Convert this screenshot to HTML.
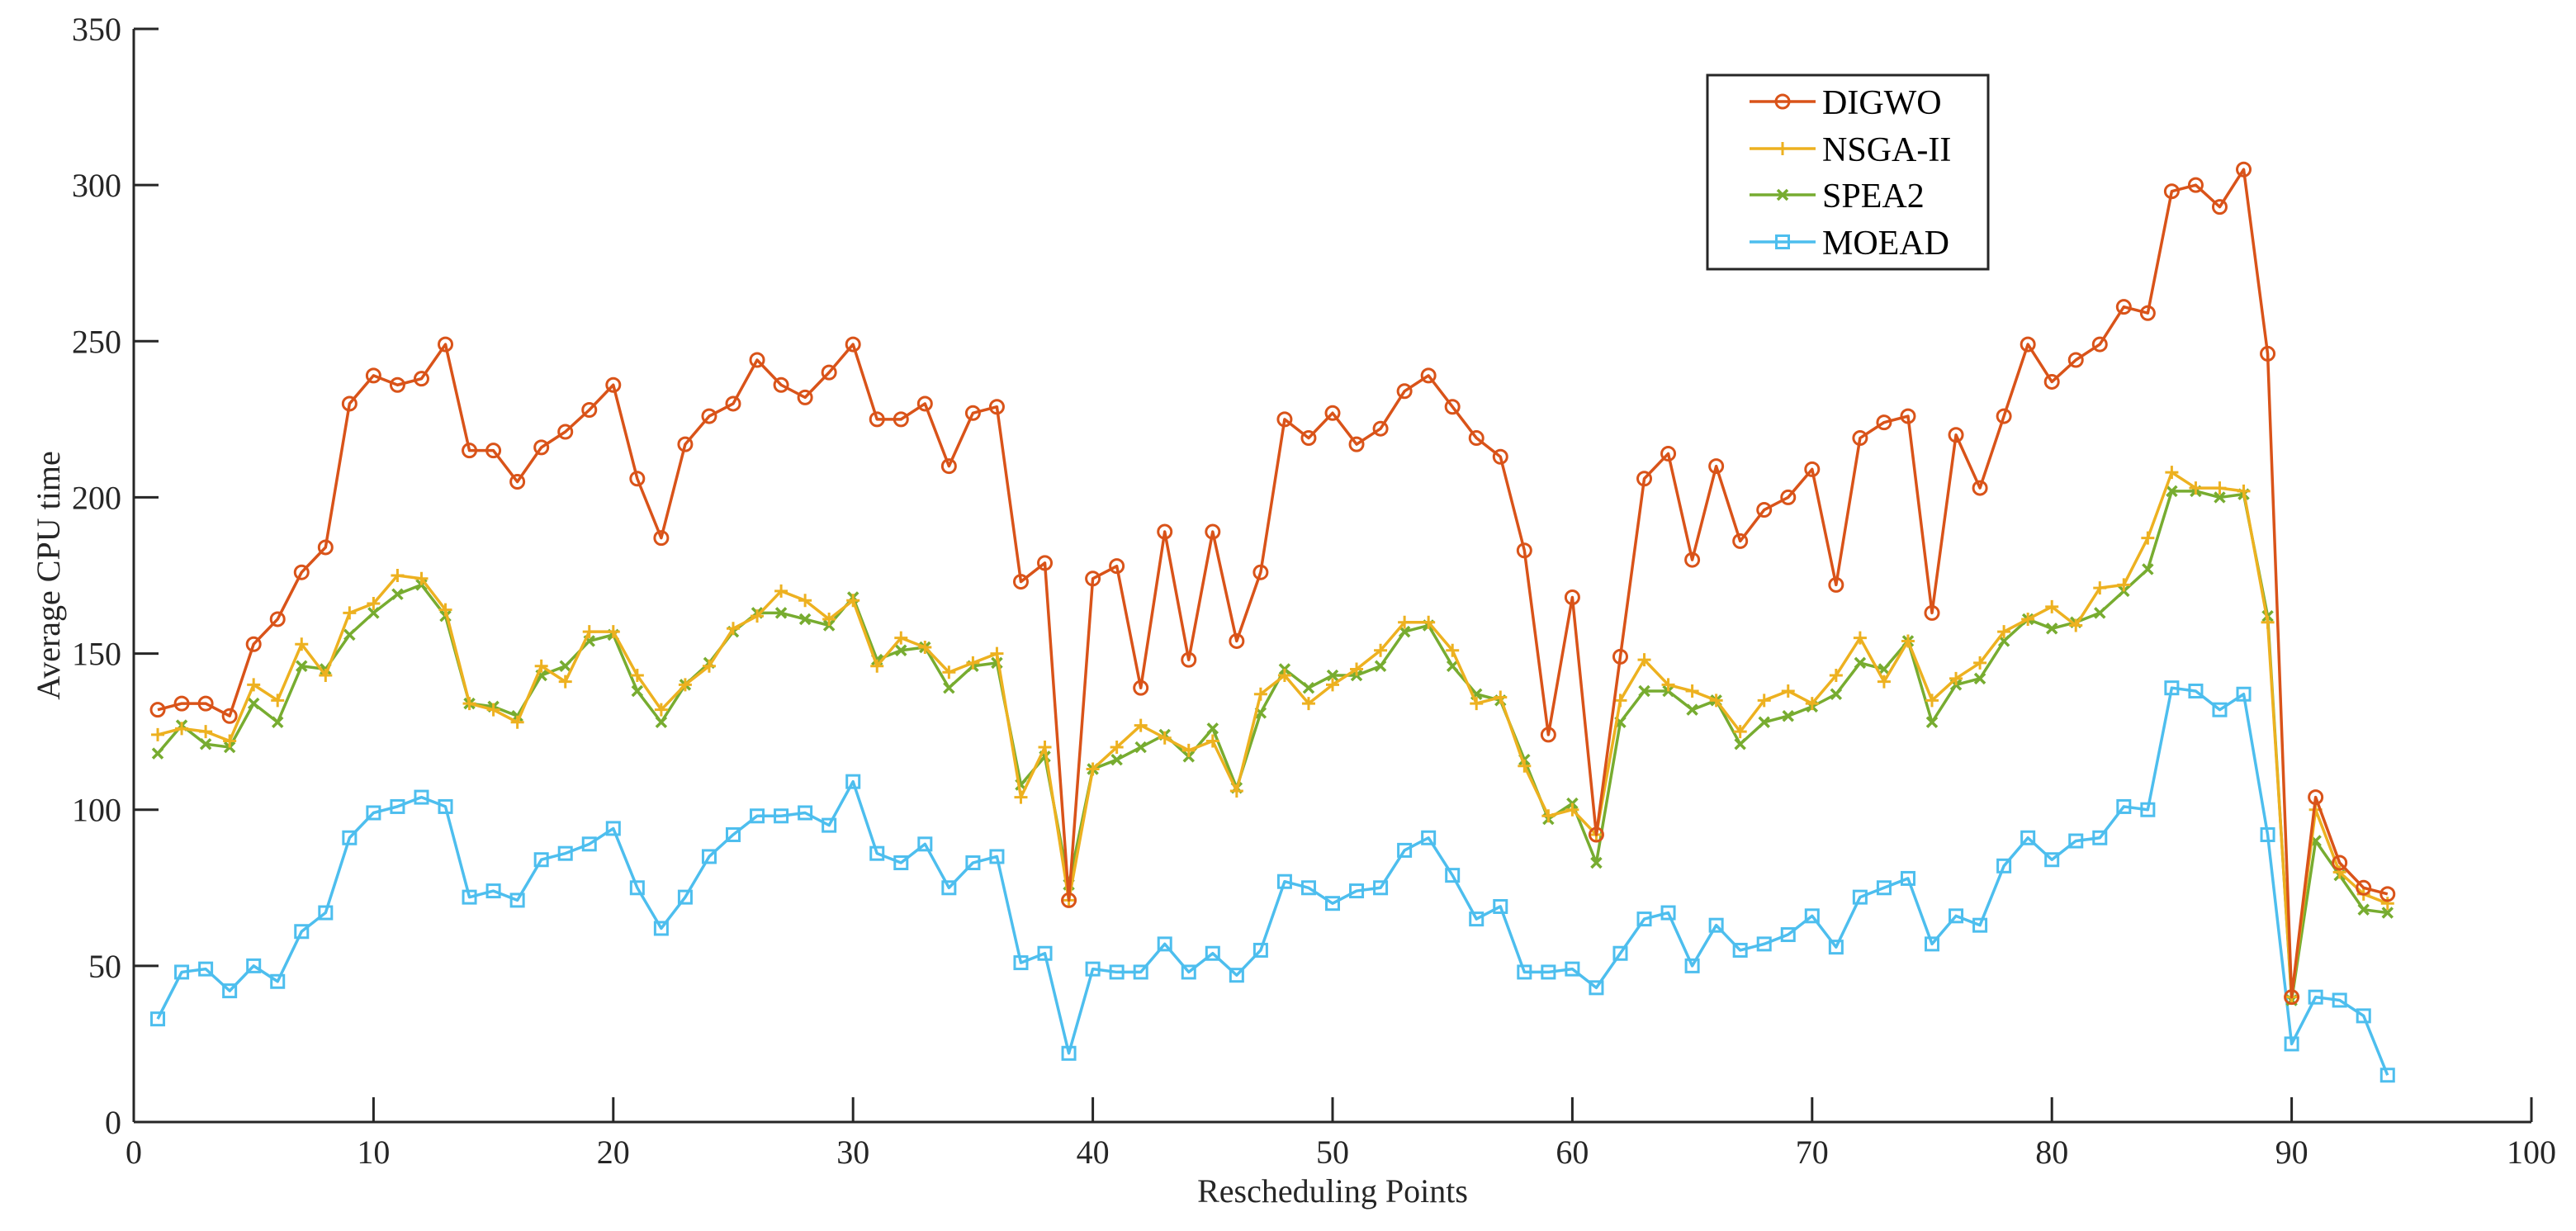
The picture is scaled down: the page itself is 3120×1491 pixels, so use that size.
<!DOCTYPE html>
<html><head><meta charset="utf-8"><style>
html,body{margin:0;padding:0;background:#fff;}
svg{display:block;font-family:"Liberation Serif",serif;}
</style></head><body>
<svg id="chart" width="3120" height="1491" viewBox="0 0 3120 1491" xmlns="http://www.w3.org/2000/svg"></svg>
<script>
const xTicks=[0,10,20,30,40,50,60,70,80,90,100];
const yTicks=[0,50,100,150,200,250,300,350];
const seriesNames=["DIGWO","NSGA-II","SPEA2","MOEAD"];
const digwo=[132,134,134,130,153,161,176,184,230,239,236,238,249,215,215,205,216,221,228,236,206,187,217,226,230,244,236,232,240,249,225,225,230,210,227,229,173,179,71,174,178,139,189,148,189,154,176,225,219,227,217,222,234,239,229,219,213,183,124,168,92,149,206,214,180,210,186,196,200,209,172,219,224,226,163,220,203,226,249,237,244,249,261,259,298,300,293,305,246,40,104,83,75,73];
const nsga=[124,126,125,122,140,135,153,143,163,166,175,174,164,134,132,128,146,141,157,157,143,132,140,146,158,162,170,167,161,167,146,155,152,144,147,150,104,120,71,113,120,127,123,119,122,106,137,143,134,140,145,151,160,160,151,134,136,114,98,100,92,135,148,140,138,135,125,135,138,134,143,155,141,154,135,142,147,157,161,165,159,171,172,187,208,203,203,202,160,40,100,80,73,70];
const spea=[118,127,121,120,134,128,146,145,156,163,169,172,162,134,133,130,143,146,154,156,138,128,140,147,157,163,163,161,159,168,148,151,152,139,146,147,108,117,76,113,116,120,124,117,126,107,131,145,139,143,143,146,157,159,146,137,135,116,97,102,83,128,138,138,132,135,121,128,130,133,137,147,145,154,128,140,142,154,161,158,160,163,170,177,202,202,200,201,162,39,90,79,68,67];
const moead=[33,48,49,42,50,45,61,67,91,99,101,104,101,72,74,71,84,86,89,94,75,62,72,85,92,98,98,99,95,109,86,83,89,75,83,85,51,54,22,49,48,48,57,48,54,47,55,77,75,70,74,75,87,91,79,65,69,48,48,49,43,54,65,67,50,63,55,57,60,66,56,72,75,78,57,66,63,82,91,84,90,91,101,100,139,138,132,137,92,25,40,39,34,15];

const NS="http://www.w3.org/2000/svg";
const svg=document.getElementById('chart');
const X0=162,X1=3066,Y0=1359,Y1=35;
function xs(v){return X0+(X1-X0)*v/100;}
function ys(v){return Y0-(Y0-Y1)*v/350;}
function mk(tag,attrs,parent){const e=document.createElementNS(NS,tag);for(const k in attrs)e.setAttribute(k,attrs[k]);(parent||svg).appendChild(e);return e;}
const AX="#262626";
const axes=mk('g',{});


const xAxis=mk('line',{x1:X0,y1:Y0,x2:X1,y2:Y0,stroke:AX,'stroke-width':3},axes);


const yAxis=mk('line',{x1:X0,y1:Y0,x2:X0,y2:Y1,stroke:AX,'stroke-width':3},axes);


xTicks.forEach(t=>{
  const x=xs(t);
  if(t>0){const tk=mk('line',{x1:x,y1:Y0,x2:x,y2:Y0-30,stroke:AX,'stroke-width':3},axes);
  
  }
  const tx=mk('text',{x:x,y:Y0+50,'text-anchor':'middle','font-size':40,fill:AX},axes);
  tx.textContent=t;
  
  
});
yTicks.forEach(t=>{
  const y=ys(t);
  if(t>0){const tk=mk('line',{x1:X0,y1:y,x2:X0+30,y2:y,stroke:AX,'stroke-width':3},axes);
  
  }
  const tx=mk('text',{x:X0-15,y:y+14,'text-anchor':'end','font-size':40,fill:AX},axes);
  tx.textContent=t;
  
  
});
const xl=mk('text',{x:(X0+X1)/2,y:1456,'text-anchor':'middle','font-size':40,fill:AX});
xl.textContent="Rescheduling Points";


const yl=mk('text',{x:0,y:0,'text-anchor':'middle','font-size':40,fill:AX,transform:'translate(72,'+((Y0+Y1)/2)+') rotate(-90)'});
yl.textContent="Average CPU time";



const colors=["#D95319","#EDB120","#77AC30","#4DBEEE"];
const markers=["circle","plus","cross","square"];
function marker(g,type,x,y,c){
  if(type==="circle")return mk('circle',{cx:x,cy:y,r:8,fill:'none',stroke:c,'stroke-width':3},g);
  if(type==="square")return mk('rect',{x:x-7.5,y:y-7.5,width:15,height:15,fill:'none',stroke:c,'stroke-width':3},g);
  if(type==="plus")return mk('path',{d:`M${x-8} ${y}H${x+8}M${x} ${y-8}V${y+8}`,stroke:c,'stroke-width':3},g);
  return mk('path',{d:`M${x-6} ${y-6}L${x+6} ${y+6}M${x-6} ${y+6}L${x+6} ${y-6}`,stroke:c,'stroke-width':3.5},g);
}
const allData=[digwo,nsga,spea,moead];
[3,2,1,0].forEach(i=>{
  const data=allData[i];
  const g=mk('g',{});
  
  
  const pts=data.map((v,k)=>xs(k+1)+','+ys(v)).join(' ');
  const pl=mk('polyline',{points:pts,fill:'none',stroke:colors[i],'stroke-width':3.5,'stroke-linejoin':'round'},g);
  
  
  data.forEach((v,k)=>{
    const m=marker(g,markers[i],xs(k+1),ys(v),colors[i]);
    
    
  });
});

const lg=mk('g',{});


mk('rect',{x:2068,y:91,width:340,height:235,fill:'#fff',stroke:AX,'stroke-width':3},lg);
const rowsY=[123,180,236,293];
seriesNames.forEach((n,i)=>{
  const y=rowsY[i];
  const e=mk('g',{},lg);
  
  
  mk('line',{x1:2119,y1:y,x2:2199,y2:y,stroke:colors[i],'stroke-width':3.5},e);
  marker(e,markers[i],2159,y,colors[i]);
  const t=mk('text',{x:2207,y:y+15,'font-size':42,fill:'#000'},e);
  t.textContent=n;
});
</script>
</body></html>
